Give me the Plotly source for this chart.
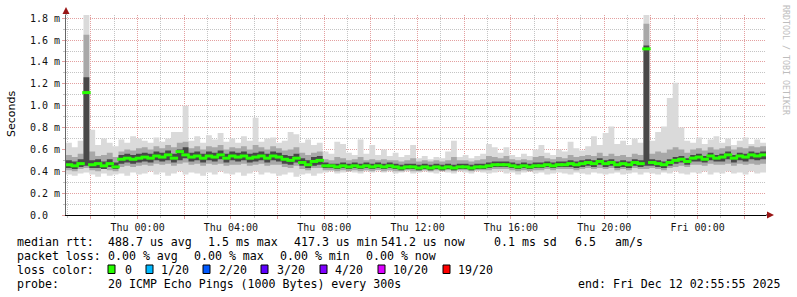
import pandas as pd
import plotly.graph_objects as go

# ---------------- data (seconds are shown in ms units "m") ----------------
START = "2025-12-10 20:55:55"
END = "2025-12-12 02:55:55"
STEP_MIN = 15

median = [0.46, 0.45, 0.47, 1.12, 0.46, 0.47, 0.45, 0.47, 0.44,
          0.51, 0.52, 0.51, 0.52,
          0.53, 0.52, 0.54, 0.53, 0.55, 0.52, 0.58, 0.55, 0.53, 0.54, 0.52, 0.54, 0.53, 0.55, 0.52, 0.54,
          0.53, 0.54, 0.52, 0.53, 0.54, 0.52, 0.54, 0.53, 0.51, 0.50, 0.52, 0.48, 0.46, 0.49, 0.50,
          0.45, 0.45, 0.44, 0.45, 0.44, 0.45, 0.44, 0.45, 0.44, 0.45, 0.44, 0.45, 0.44, 0.43, 0.44,
          0.44, 0.43, 0.44, 0.43, 0.44, 0.43, 0.44, 0.43, 0.44, 0.44, 0.43, 0.44, 0.44, 0.45, 0.46,
          0.46, 0.46, 0.45, 0.44, 0.45, 0.44, 0.45, 0.45, 0.46, 0.45, 0.46, 0.46, 0.47, 0.46, 0.47,
          0.48, 0.47, 0.49, 0.47, 0.48, 0.46, 0.47, 0.46, 0.48, 0.47,
          1.52, 0.48, 0.47, 0.46, 0.48, 0.50, 0.51, 0.49, 0.52, 0.53, 0.51, 0.54, 0.52, 0.53, 0.55,
          0.52, 0.54, 0.53, 0.55, 0.54, 0.55]

ping_max = [0.66, 0.62, 0.68, 1.84, 0.78, 0.64, 0.70, 0.66, 0.63,
            0.69, 0.66, 0.72, 0.70,
            0.68, 0.66, 0.71, 0.67, 0.70, 0.76, 0.76, 1.00, 0.68, 0.72, 0.66, 0.73, 0.69, 0.75, 0.67, 0.70,
            0.66, 0.72, 0.68, 0.89, 0.67, 0.70, 0.71, 0.66, 0.68, 0.76, 0.74, 0.66, 0.69, 0.64, 0.66,
            0.58, 0.56, 0.67, 0.65, 0.57, 0.55, 0.69, 0.56, 0.64, 0.55, 0.60, 0.54, 0.57, 0.53, 0.55,
            0.64, 0.52, 0.54, 0.51, 0.53, 0.52, 0.58, 0.68, 0.53, 0.55, 0.52, 0.54, 0.56, 0.65, 0.62,
            0.57, 0.62, 0.55, 0.53, 0.56, 0.54, 0.60, 0.64, 0.57, 0.55, 0.60, 0.58, 0.67, 0.61, 0.59,
            0.63, 0.72, 0.64, 0.75, 0.81, 0.65, 0.68, 0.64, 0.70, 0.66,
            1.83, 0.68, 0.76, 0.81, 1.07, 1.21, 0.80, 0.68, 0.66, 0.71, 0.65, 0.69, 0.72, 0.66, 0.70,
            0.64, 0.68, 0.71, 0.65, 0.69, 0.66]

ping_min = [0.37, 0.36, 0.38, 0.39, 0.37, 0.35, 0.38, 0.36, 0.37, 0.38, 0.36, 0.39, 0.37,
            0.38, 0.40, 0.37, 0.39, 0.36, 0.38, 0.40, 0.37, 0.39, 0.38, 0.36, 0.39, 0.37, 0.40, 0.38,
            0.37, 0.39, 0.36, 0.38, 0.40, 0.37, 0.39, 0.38, 0.36, 0.37, 0.39, 0.35, 0.37, 0.38, 0.36, 0.38,
            0.39, 0.40, 0.38, 0.39, 0.40, 0.39, 0.38, 0.40, 0.39, 0.41, 0.39, 0.40, 0.38, 0.39, 0.40,
            0.38, 0.39, 0.40, 0.39, 0.38, 0.40, 0.39, 0.38, 0.40, 0.39, 0.38, 0.40, 0.39, 0.38, 0.39,
            0.40, 0.38, 0.39, 0.37, 0.39, 0.40, 0.38, 0.39, 0.37, 0.38, 0.39, 0.38, 0.37, 0.39, 0.38,
            0.37, 0.39, 0.38, 0.37, 0.38, 0.39, 0.37, 0.38, 0.39, 0.37,
            0.39, 0.38, 0.37, 0.39, 0.38, 0.40, 0.38, 0.37, 0.39, 0.38, 0.40, 0.37, 0.39, 0.38, 0.40,
            0.38, 0.39, 0.37, 0.40, 0.38, 0.39]

band_lo = [0.41, 0.40, 0.42, 0.43, 0.41, 0.40, 0.42, 0.41, 0.40, 0.44, 0.45, 0.44, 0.45,
           0.46, 0.45, 0.47, 0.46, 0.47, 0.45, 0.47, 0.48, 0.46, 0.47, 0.45, 0.47, 0.46, 0.47, 0.45,
           0.46, 0.46, 0.47, 0.45, 0.46, 0.47, 0.45, 0.46, 0.46, 0.44, 0.43, 0.45, 0.42, 0.41, 0.43, 0.43,
           0.41, 0.41, 0.40, 0.41, 0.40, 0.41, 0.40, 0.41, 0.40, 0.41, 0.40, 0.41, 0.40, 0.40, 0.41,
           0.40, 0.40, 0.41, 0.40, 0.41, 0.40, 0.41, 0.40, 0.41, 0.41, 0.40, 0.41, 0.41, 0.41, 0.42,
           0.42, 0.42, 0.41, 0.40, 0.41, 0.40, 0.41, 0.41, 0.42, 0.41, 0.42, 0.42, 0.42, 0.41, 0.42,
           0.43, 0.42, 0.43, 0.42, 0.43, 0.41, 0.42, 0.41, 0.43, 0.42,
           0.42, 0.43, 0.42, 0.41, 0.43, 0.44, 0.45, 0.44, 0.46, 0.46, 0.45, 0.47, 0.46, 0.46, 0.47,
           0.45, 0.47, 0.46, 0.47, 0.46, 0.47]

band_hi = [0.55, 0.53, 0.56, 1.65, 0.58, 0.54, 0.55, 0.57, 0.53, 0.58, 0.60, 0.59, 0.61,
           0.62, 0.60, 0.63, 0.61, 0.64, 0.62, 0.66, 0.67, 0.61, 0.63, 0.60, 0.63, 0.62, 0.64, 0.60,
           0.62, 0.61, 0.63, 0.60, 0.64, 0.62, 0.60, 0.63, 0.61, 0.59, 0.60, 0.62, 0.57, 0.55, 0.57, 0.58,
           0.51, 0.50, 0.53, 0.52, 0.50, 0.51, 0.53, 0.50, 0.51, 0.50, 0.51, 0.50, 0.50, 0.49, 0.50,
           0.52, 0.49, 0.50, 0.49, 0.50, 0.49, 0.50, 0.53, 0.50, 0.50, 0.49, 0.50, 0.51, 0.54, 0.53,
           0.52, 0.54, 0.51, 0.50, 0.51, 0.50, 0.53, 0.54, 0.52, 0.51, 0.53, 0.52, 0.55, 0.53, 0.54,
           0.55, 0.54, 0.57, 0.54, 0.56, 0.54, 0.55, 0.53, 0.56, 0.55,
           1.75, 0.56, 0.58, 0.57, 0.60, 0.62, 0.60, 0.57, 0.60, 0.61, 0.59, 0.62, 0.60, 0.61, 0.63,
           0.60, 0.62, 0.61, 0.63, 0.62, 0.63]

core_lo = [0.43, 0.42, 0.44, 0.45, 0.43, 0.43, 0.42, 0.44, 0.42, 0.47, 0.48, 0.47, 0.48,
           0.49, 0.48, 0.50, 0.49, 0.50, 0.48, 0.50, 0.52, 0.49, 0.50, 0.48, 0.50, 0.49, 0.51, 0.48,
           0.50, 0.49, 0.50, 0.48, 0.49, 0.50, 0.48, 0.50, 0.49, 0.47, 0.46, 0.48, 0.45, 0.43, 0.45, 0.46,
           0.43, 0.43, 0.42, 0.43, 0.42, 0.43, 0.42, 0.43, 0.42, 0.43, 0.42, 0.43, 0.42, 0.41, 0.42,
           0.42, 0.41, 0.42, 0.41, 0.42, 0.41, 0.42, 0.41, 0.42, 0.42, 0.41, 0.42, 0.42, 0.43, 0.44,
           0.44, 0.44, 0.43, 0.42, 0.43, 0.42, 0.43, 0.43, 0.44, 0.43, 0.44, 0.44, 0.44, 0.43, 0.44,
           0.45, 0.44, 0.46, 0.44, 0.45, 0.43, 0.44, 0.43, 0.45, 0.44,
           0.45, 0.45, 0.44, 0.43, 0.45, 0.47, 0.48, 0.46, 0.49, 0.49, 0.48, 0.50, 0.49, 0.49, 0.51,
           0.48, 0.50, 0.49, 0.51, 0.50, 0.51]

core_hi = [0.50, 0.49, 0.51, 1.26, 0.50, 0.51, 0.49, 0.51, 0.48, 0.55, 0.56, 0.55, 0.56,
           0.57, 0.56, 0.58, 0.57, 0.59, 0.56, 0.60, 0.62, 0.57, 0.58, 0.56, 0.58, 0.57, 0.59, 0.56,
           0.58, 0.57, 0.58, 0.56, 0.57, 0.58, 0.56, 0.58, 0.57, 0.55, 0.54, 0.56, 0.52, 0.50, 0.53, 0.54,
           0.48, 0.47, 0.47, 0.48, 0.47, 0.48, 0.47, 0.48, 0.47, 0.48, 0.47, 0.48, 0.47, 0.46, 0.47,
           0.47, 0.46, 0.47, 0.46, 0.47, 0.46, 0.47, 0.46, 0.47, 0.47, 0.46, 0.47, 0.47, 0.48, 0.49,
           0.49, 0.49, 0.48, 0.47, 0.48, 0.47, 0.48, 0.48, 0.49, 0.48, 0.49, 0.49, 0.50, 0.49, 0.50,
           0.51, 0.50, 0.52, 0.50, 0.51, 0.49, 0.50, 0.49, 0.51, 0.50,
           1.55, 0.51, 0.50, 0.49, 0.51, 0.53, 0.54, 0.52, 0.55, 0.56, 0.54, 0.57, 0.55, 0.56, 0.58,
           0.55, 0.57, 0.56, 0.58, 0.57, 0.58]

Y_TICKS = [0.0, 0.2, 0.4, 0.6, 0.8, 1.0, 1.2, 1.4, 1.6, 1.8]
Y_TICK_TEXT = ["0.0\u00a0\u00a0", "0.2 m", "0.4 m", "0.6 m", "0.8 m", "1.0 m",
               "1.2 m", "1.4 m", "1.6 m", "1.8 m"]
X_GRID_TIMES = ["2025-12-10 22:00", "2025-12-11 00:00", "2025-12-11 02:00", "2025-12-11 04:00",
                "2025-12-11 06:00", "2025-12-11 08:00", "2025-12-11 10:00", "2025-12-11 12:00",
                "2025-12-11 14:00", "2025-12-11 16:00", "2025-12-11 18:00", "2025-12-11 20:00",
                "2025-12-11 22:00", "2025-12-12 00:00", "2025-12-12 02:00"]
X_TICK_TEXT = ["", "Thu 00:00", "", "Thu 04:00", "", "Thu 08:00", "", "Thu 12:00",
               "", "Thu 16:00", "", "Thu 20:00", "", "Fri 00:00", ""]

ROW_RTT = ["median rtt:", "488.7 us avg", "1.5 ms max", "417.3 us min", "541.2 us now",
           "0.1 ms sd", "6.5", "am/s"]
ROW_LOSS = ["packet loss:", "0.00 % avg", "0.00 % max", "0.00 % min", "0.00 % now"]
LOSS_LABELS = ["0", "1/20", "2/20", "3/20", "4/20", "10/20", "19/20"]
LOSS_COLORS = ["#26ff00", "#00b8ff", "#0059ff", "#5e00ff", "#7e00ff", "#dd00ff", "#ff0000"]
PROBE_TEXT = "20 ICMP Echo Pings (1000 Bytes) every 300s"
END_TEXT = "end: Fri Dec 12 02:55:55 2025"
WATERMARK = "RRDTOOL / TOBI OETIKER"

# ---------------- layout helpers ----------------
W, H = 797, 297
PL, PR, PT, PB = 66, 766, 15, 215   # plot area pixels
YMAX = 1.83


def px(x):
    return (x - PL) / (PR - PL)


def py(y):
    return (PB - y) / (PB - PT)


n = len(median)
bounds = pd.date_range(START, periods=n + 1, freq=f"{STEP_MIN}min")
centers = bounds[:-1] + pd.Timedelta(minutes=STEP_MIN / 2)


def ext(a):
    return list(a) + [a[-1]]


fig = go.Figure()


def band(lo, hi, color):
    fig.add_trace(go.Scatter(x=bounds, y=ext(lo), mode="lines", line=dict(width=0, shape="hv"),
                             hoverinfo="skip", showlegend=False))
    fig.add_trace(go.Scatter(x=bounds, y=ext(hi), mode="lines", line=dict(width=0, shape="hv"),
                             fill="tonexty", fillcolor=color, hoverinfo="skip", showlegend=False))


band(ping_min, ping_max, "#dadada")
band(band_lo, band_hi, "#a8a8a8")
band(core_lo, core_hi, "#484848")

fig.add_trace(go.Scatter(x=centers, y=median, mode="markers",
                         marker=dict(symbol="line-ew", size=6,
                                     line=dict(width=3, color=LOSS_COLORS[0])),
                         hoverinfo="skip", showlegend=False))

MAJOR = "#e3a0a0"
MINOR = "#c4c4c4"
MONO = "DejaVu Sans Mono"

fig.update_layout(
    width=W, height=H, autosize=False,
    margin=dict(l=PL, r=W - PR, t=PT, b=H - PB, pad=0),
    paper_bgcolor="white", plot_bgcolor="white",
    showlegend=False, hovermode=False,
    xaxis=dict(type="date", range=[START, END], tickmode="array",
               tickvals=X_GRID_TIMES, ticktext=X_TICK_TEXT,
               showgrid=True, gridcolor=MAJOR, griddash="1px,1px", gridwidth=1,
               ticks="outside", ticklen=3, tickcolor=MAJOR,
               tickfont=dict(family=MONO, size=10, color="#111"),
               showline=True, linecolor="#000", linewidth=1, zeroline=False,
               minor=dict(tickmode="linear", tick0="2025-12-10 21:00", dtick=3600000,
                          showgrid=True, gridcolor=MINOR, griddash="1px,1px",
                          ticks="outside", ticklen=2, tickcolor=MINOR),
               fixedrange=True),
    yaxis=dict(range=[0, YMAX], tickmode="array", tickvals=Y_TICKS, ticktext=Y_TICK_TEXT,
               showgrid=True, gridcolor=MAJOR, griddash="1px,1px", gridwidth=1,
               ticks="outside", ticklen=3, tickcolor=MAJOR,
               tickfont=dict(family=MONO, size=10, color="#111"),
               showline=True, linecolor="#666", linewidth=1, zeroline=False,
               minor=dict(tickmode="linear", tick0=0, dtick=0.1,
                          showgrid=True, gridcolor=MINOR, griddash="1px,1px",
                          ticks="outside", ticklen=2, tickcolor=MINOR),
               fixedrange=True),
)

ARROW = "#991515"
shapes = [
    dict(type="line", xref="paper", yref="paper", x0=px(PR), x1=px(769), y0=0, y1=0,
         line=dict(color="#000", width=1)),
    dict(type="path", xref="paper", yref="paper",
         path=f"M {px(774)} {py(215)} L {px(767)} {py(211.5)} L {px(767)} {py(218.5)} Z",
         fillcolor=ARROW, line=dict(width=0)),
    dict(type="line", xref="paper", yref="paper", x0=0, x1=0, y0=1, y1=py(12),
         line=dict(color="#666", width=1)),
    dict(type="path", xref="paper", yref="paper",
         path=f"M {px(66)} {py(7)} L {px(62.5)} {py(14)} L {px(69.5)} {py(14)} Z",
         fillcolor=ARROW, line=dict(width=0)),
]

annotations = []


def text(s, x, y, size=11.6, anchor="left", color="#000", family=MONO, angle=0):
    annotations.append(dict(text=s, xref="paper", yref="paper", x=px(x), y=py(y),
                            xanchor=anchor, yanchor="middle", showarrow=False,
                            borderpad=0, textangle=angle,
                            font=dict(family=family, size=size, color=color)))


ROW_Y = [241.5, 255.5, 269.5, 284.0]
RTT_X = [16, 107, 207, 293, 380, 493, 574, 614]
LOSS_X = [16, 107, 193, 279, 365]
BOX_X = [108, 146, 203, 261, 320, 378, 443]
LABEL_X = [124, 160, 218, 276, 334, 392, 457]

for s, x in zip(ROW_RTT, RTT_X):
    text(s, x, ROW_Y[0])
for s, x in zip(ROW_LOSS, LOSS_X):
    text(s, x, ROW_Y[1])
text("loss color:", 16, ROW_Y[2])
for lab, col, bx, lx in zip(LOSS_LABELS, LOSS_COLORS, BOX_X, LABEL_X):
    shapes.append(dict(type="rect", xref="paper", yref="paper",
                       x0=px(bx), x1=px(bx + 7), y0=py(265), y1=py(273.5),
                       fillcolor=col, line=dict(color="#000", width=1)))
    text(lab, lx, ROW_Y[2])
text("probe:", 16, ROW_Y[3])
text(PROBE_TEXT, 107, ROW_Y[3])
text(END_TEXT, 781, ROW_Y[3], anchor="right")

text("Seconds", 11, 114, size=11, anchor="center", family="DejaVu Sans", angle=-90)
text(WATERMARK, 786, 60, size=8.3, anchor="center", color="#bdbdbd", angle=90)

fig.update_layout(shapes=shapes, annotations=annotations)
fig.write_html("out.html")
